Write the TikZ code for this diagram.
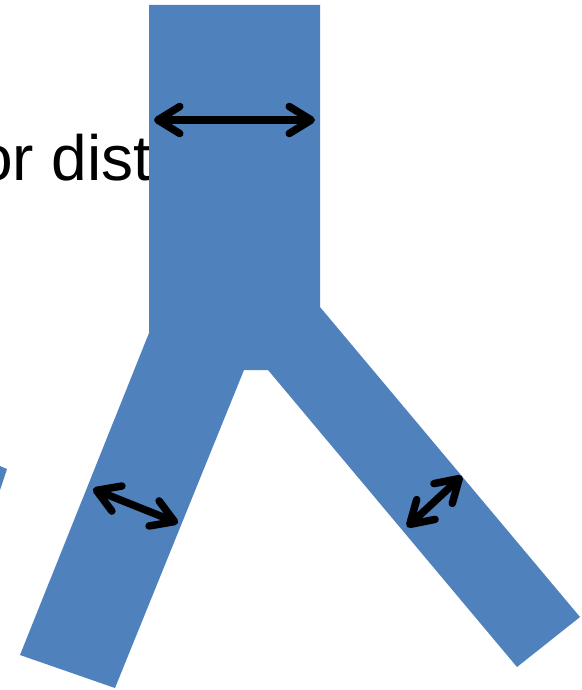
\documentclass[tikz,border=0pt]{standalone}
\usepackage{fontspec}
\setmainfont{Liberation Sans}
\usetikzlibrary{arrows.meta}
\definecolor{branchblue}{HTML}{4F81BD}
\tikzset{
  shape fill/.style={fill=branchblue},
  widtharrow/.style={line width=7.5pt, line cap=round, black,
    {Straight Barb[length=22pt,width=27pt,line cap=round,line join=round]}-{Straight Barb[length=22pt,width=27pt,line cap=round,line join=round]}}
}
\begin{document}
\begin{tikzpicture}[x=1pt,y=-1pt]
\useasboundingbox (0,0) rectangle (581,690);
\clip (0,0) rectangle (581,690);
\node[anchor=base west, inner sep=0pt, font=\fontsize{64}{64}\selectfont] (label) at (-23,180) {or dist};
\fill[shape fill] (149,5) -- (320,5) -- (320,307) -- (580,617) -- (517,667) -- (268,370) -- (244,370) -- (115,688) -- (20,655) -- (149,333) -- cycle;
\fill[shape fill] (0,466) -- (7,469) -- (0,490) -- cycle;
\coordinate (a1) at (154,120);
\coordinate (a2) at (315,120);
\coordinate (b1) at (93,489);
\coordinate (b2) at (178,523);
\coordinate (c1) at (462,476);
\coordinate (c2) at (407,527);
\draw[widtharrow] (a1) -- (a2);
\draw[widtharrow] (b1) -- (b2);
\draw[widtharrow] (c1) -- (c2);
\end{tikzpicture}
\end{document}
